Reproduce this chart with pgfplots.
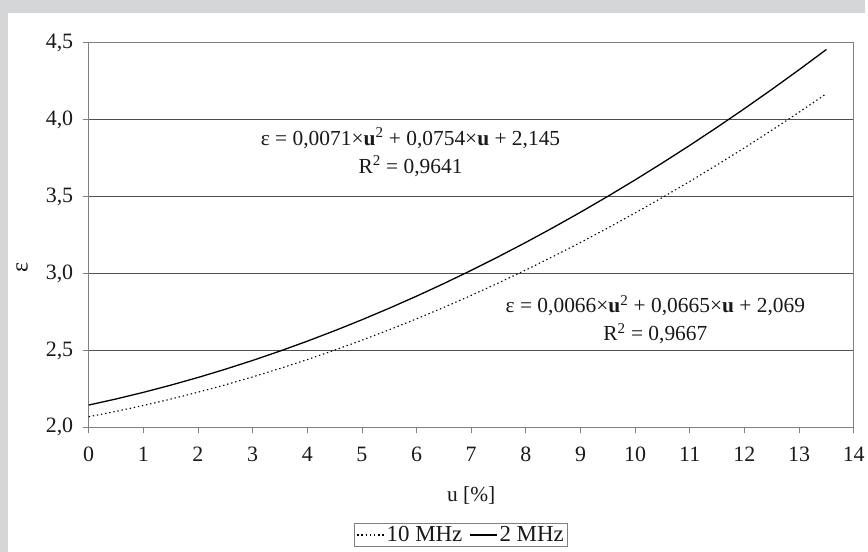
\documentclass[border=0pt]{standalone}
\usepackage{fontspec}
\setmainfont{Liberation Serif}
\usepackage{pgfplots}
\pgfplotsset{compat=1.18}
\definecolor{bggray}{RGB}{211,213,215}
\definecolor{axgray}{RGB}{128,128,128}
\definecolor{gridgray}{RGB}{80,80,80}
\newcommand{\lgf}{\fontsize{23bp}{25bp}\selectfont}
\begin{document}
\begin{tikzpicture}
\fill[bggray] (0bp,0bp) rectangle (868bp,554bp);
\fill[white] (8bp,0bp) rectangle (868bp,541bp);
\begin{axis}[
  at={(89bp,125bp)}, anchor=south west,
  scale only axis, width=768bp, height=386bp,
  xmin=0, xmax=14, ymin=2, ymax=4.5,
  xtick={0,1,...,14}, ytick={2,2.5,3,3.5,4,4.5},
  axis line style={axgray, line width=0.8bp},
  tick style={axgray, line width=0.8bp},
  tick align=outside, major tick length=6bp,
  xtick pos=bottom, ytick pos=left,
  ymajorgrids, grid style={gridgray, line width=0.8bp},
  /pgf/number format/assume math mode=true,
  /pgf/number format/use comma,
  yticklabel style={/pgf/number format/fixed, /pgf/number format/fixed zerofill, /pgf/number format/precision=1, xshift=-6bp},
  xticklabel style={yshift=-10bp},
  tick label style={font=\fontsize{22bp}{26bp}\selectfont, text=black!90},
  xlabel={u [\%]},
  xlabel style={at={(axis description cs:0.5,-0.176)}, anchor=center, font=\fontsize{21.5bp}{26bp}\selectfont, text=black!90},
  ylabel={ε},
  ylabel style={at={(axis description cs:-0.087,0.417)}, anchor=center, font=\fontsize{24bp}{26bp}\selectfont, text=black!90},
  legend columns=2,
  legend style={at={(axis description cs:0.487,-0.28)}, anchor=center,
    draw=axgray, line width=0.8bp, text=black!90,
    inner xsep=2bp, inner ysep=1bp,
    /tikz/every even column/.append style={column sep=5bp}},
  legend image code/.code={\draw[#1] (0bp,0bp) -- (27bp,0bp);},
]
\addplot[black, line width=1.1bp, dash pattern=on 1.4bp off 2.8bp] coordinates {
(0,2.069) (0.5,2.1039) (1,2.1421) (1.5,2.1836) (2,2.2284) (2.5,2.2765) (3,2.3279) (3.5,2.3826)
(4,2.4406) (4.5,2.5019) (5,2.5665) (5.5,2.6344) (6,2.7056) (6.5,2.7801) (7,2.8579) (7.5,2.9390)
(8,3.0234) (8.5,3.1111) (9,3.2021) (9.5,3.2964) (10,3.394) (10.5,3.4949) (11,3.5991) (11.5,3.7066)
(12,3.8174) (12.5,3.9315) (13,4.0489) (13.5,4.1696)};
\addlegendentry{\lgf 10 MHz}
\addplot[black, line width=1.3bp] coordinates {
(0,2.145) (0.5,2.1845) (1,2.2275) (1.5,2.2741) (2,2.3242) (2.5,2.3779) (3,2.4351) (3.5,2.4959)
(4,2.5602) (4.5,2.6281) (5,2.6995) (5.5,2.7745) (6,2.8530) (6.5,2.9351) (7,3.0207) (7.5,3.1099)
(8,3.2026) (8.5,3.2989) (9,3.3987) (9.5,3.5021) (10,3.609) (10.5,3.7195) (11,3.8335) (11.5,3.9511)
(12,4.0722) (12.5,4.1969) (13,4.3251) (13.5,4.4569)};
\addlegendentry{\lgf 2 MHz}
\node[align=center, font=\fontsize{21.5bp}{28bp}\selectfont, text=black!90] at (axis cs:5.89,3.79)
  {ε = 0,0071×\textbf{u}\textsuperscript{2} + 0,0754×\textbf{u} + 2,145\\R\textsuperscript{2} = 0,9641};
\node[align=center, font=\fontsize{21.5bp}{28bp}\selectfont, text=black!90] at (axis cs:10.37,2.70)
  {ε = 0,0066×\textbf{u}\textsuperscript{2} + 0,0665×\textbf{u} + 2,069\\R\textsuperscript{2} = 0,9667};
\end{axis}
\end{tikzpicture}
\end{document}
